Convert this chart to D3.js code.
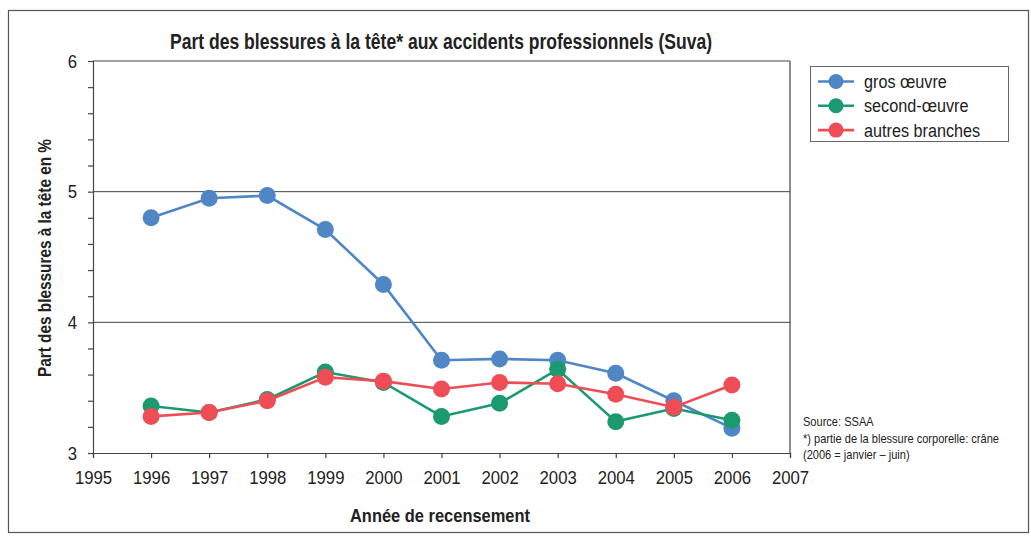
<!DOCTYPE html>
<html>
<head>
<meta charset="utf-8">
<script src="https://cdn.jsdelivr.net/npm/d3@7"></script>
<style>
  html, body { margin: 0; padding: 0; background: #fff; }
  svg { display: block; }
  text { font-family: "Liberation Sans", Arial, sans-serif; fill: #222; }
</style>
</head>
<body>
<svg id="chart" width="1031" height="540"></svg>
<script>
const years = [1996, 1997, 1998, 1999, 2000, 2001, 2002, 2003, 2004, 2005, 2006];
const grosOeuvre = [4.80, 4.95, 4.97, 4.71, 4.29, 3.71, 3.72, 3.71, 3.61, 3.40, 3.19];
const secondOeuvre = [3.36, 3.31, 3.41, 3.62, 3.54, 3.28, 3.38, 3.64, 3.24, 3.34, 3.25];
const autresBranches = [3.28, 3.31, 3.40, 3.58, 3.55, 3.49, 3.54, 3.53, 3.45, 3.35, 3.52];
const seriesNames = ["gros œuvre", "second-œuvre", "autres branches"];
const seriesColors = ["#4f86c6", "#1a9a6e", "#ee4d55"];
const xTicks = [1995, 1996, 1997, 1998, 1999, 2000, 2001, 2002, 2003, 2004, 2005, 2006, 2007];
const yTicks = [3, 4, 5, 6];
const notes = ["Source: SSAA", "*) partie de la blessure corporelle: crâne", "(2006 = janvier – juin)"];
const titleText = "Part des blessures à la tête* aux accidents professionnels (Suva)";
const yLabel = "Part des blessures à la tête en %";
const xLabel = "Année de recensement";

const svg = d3.select("#chart");
const m = { left: 93, top: 61, right: 790, bottom: 453 };

function condense(sel, factor) {
  sel.each(function () {
    const len = this.getComputedTextLength();
    d3.select(this).attr("textLength", len * factor).attr("lengthAdjust", "spacingAndGlyphs");
  });
}
function fitTo(sel, width) {
  sel.attr("textLength", width).attr("lengthAdjust", "spacingAndGlyphs");
}

// outer frame
svg.append("rect").attr("x", 8.5).attr("y", 10.5).attr("width", 1020).attr("height", 522)
  .attr("fill", "none").attr("stroke", "#555").attr("stroke-width", 1.2);

const x = d3.scaleLinear().domain([1995, 2007]).range([m.left, m.right]);
const y = d3.scaleLinear().domain([3, 6]).range([m.bottom, m.top]);

// gridlines
svg.append("g").selectAll("line").data([4, 5]).join("line")
  .attr("x1", m.left).attr("x2", m.right)
  .attr("y1", d => y(d)).attr("y2", d => y(d))
  .attr("stroke", "#444").attr("stroke-width", 1);

// plot frame top & right
svg.append("line").attr("x1", m.left).attr("x2", m.right).attr("y1", m.top).attr("y2", m.top)
  .attr("stroke", "#444").attr("stroke-width", 1.2);
svg.append("line").attr("x1", m.right).attr("x2", m.right).attr("y1", m.top).attr("y2", m.bottom)
  .attr("stroke", "#444").attr("stroke-width", 1.2);

// y axis
const yAxis = d3.axisLeft(y).tickValues(d3.range(3, 6.001, 0.2)).tickSize(5).tickPadding(11)
  .tickFormat(d => (yTicks.some(t => Math.abs(t - d) < 1e-6) ? d3.format("d")(Math.round(d)) : ""));
const gy = svg.append("g").attr("transform", `translate(${m.left},0)`).call(yAxis);
gy.selectAll("text").style("font-size", "19px").attr("fill", "#222");
gy.selectAll("line, path").attr("stroke", "#444").attr("stroke-width", 1.2);
condense(gy.selectAll("text"), 0.88);

// x axis
const xAxis = d3.axisBottom(x).tickValues(xTicks).tickSize(5).tickPadding(13).tickFormat(d3.format("d"));
const gx = svg.append("g").attr("transform", `translate(0,${m.bottom})`).call(xAxis);
gx.selectAll("text").style("font-size", "19px").attr("fill", "#222");
gx.selectAll("line, path").attr("stroke", "#444").attr("stroke-width", 1.2);
condense(gx.selectAll("text"), 0.88);

// series
const allSeries = [grosOeuvre, secondOeuvre, autresBranches];
const line = d3.line().x((d, i) => x(years[i])).y(d => y(d));
allSeries.forEach((vals, si) => {
  const g = svg.append("g");
  g.append("path").datum(vals).attr("d", line).attr("fill", "none")
    .attr("stroke", seriesColors[si]).attr("stroke-width", 2.6);
  g.selectAll("circle").data(vals).join("circle")
    .attr("cx", (d, i) => x(years[i])).attr("cy", d => y(d)).attr("r", 8.5)
    .attr("fill", seriesColors[si]);
});

// title
svg.append("text").attr("x", 441).attr("y", 49).attr("text-anchor", "middle")
  .style("font-size", "22px").style("font-weight", "bold").text(titleText)
  .call(fitTo, 542);

// y label
svg.append("text").attr("transform", `translate(51,258) rotate(-90)`).attr("text-anchor", "middle")
  .style("font-size", "19px").style("font-weight", "bold").text(yLabel)
  .call(fitTo, 238);

// x label
svg.append("text").attr("x", 440).attr("y", 522).attr("text-anchor", "middle")
  .style("font-size", "19px").style("font-weight", "bold").text(xLabel)
  .call(fitTo, 180);

// legend
const lg = svg.append("g");
lg.append("rect").attr("x", 810.5).attr("y", 66.5).attr("width", 198).attr("height", 75)
  .attr("fill", "#fff").attr("stroke", "#666").attr("stroke-width", 1);
seriesNames.forEach((name, i) => {
  const yy = 81.5 + i * 24.3;
  lg.append("line").attr("x1", 818).attr("x2", 854).attr("y1", yy).attr("y2", yy)
    .attr("stroke", seriesColors[i]).attr("stroke-width", 2.6);
  lg.append("circle").attr("cx", 836).attr("cy", yy).attr("r", 7.5).attr("fill", seriesColors[i]);
  const t = lg.append("text").attr("x", 864).attr("y", yy + 6.5).style("font-size", "18px").text(name);
  condense(t, 0.9);
});

// notes
const nt = svg.append("g").selectAll("text").data(notes).join("text")
  .attr("x", 803).attr("y", (d, i) => 426 + i * 16.5)
  .style("font-size", "13px").text(d => d);
condense(nt, 0.85);
</script>
</body>
</html>
